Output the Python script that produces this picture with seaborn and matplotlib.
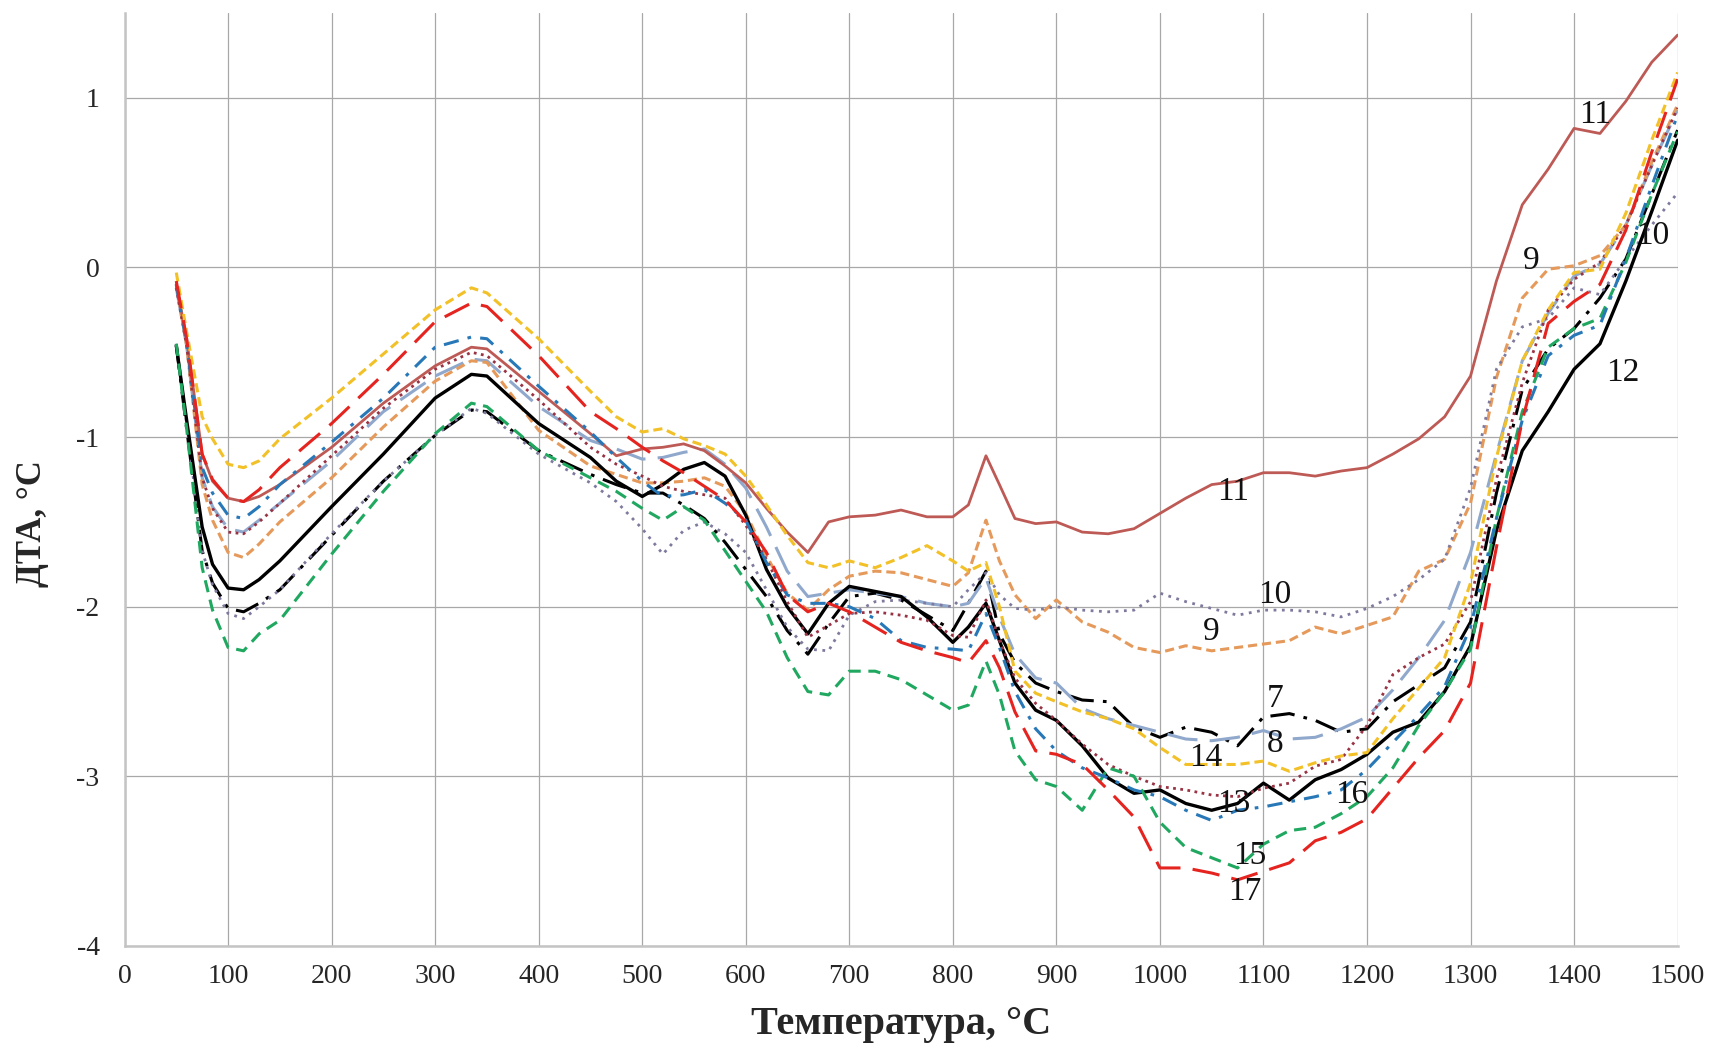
import numpy as np
import pandas as pd
import matplotlib
matplotlib.use('Agg')
import matplotlib.pyplot as plt
import seaborn as sns

""" Data (read off the DTA curves) """

temps = [50, 60, 75, 85, 100, 115, 130, 150, 200, 250, 300, 335, 350, 400, 450, 475, 500,
         520, 540, 560, 580, 600, 620, 640, 660, 680, 700, 725, 750, 775, 800, 815,
         832, 845, 860, 880, 900, 925, 950, 975, 1000, 1025, 1050, 1075, 1100, 1125,
         1150, 1175, 1200, 1225, 1250, 1275, 1300, 1325, 1350, 1375, 1400, 1425,
         1450, 1475, 1500]

dta_7 = [-0.46, -0.95, -1.67, -1.86, -2.01, -2.03, -1.98, -1.90, -1.58, -1.26, -0.99, -0.84, -0.85,
         -1.08, -1.22, -1.28, -1.33, -1.33, -1.40, -1.48, -1.62, -1.78, -1.94, -2.14,
         -2.28, -2.10, -1.94, -1.92, -1.96, -2.05, -2.14, -1.98, -1.79, -2.16, -2.33,
         -2.45, -2.50, -2.55, -2.56, -2.71, -2.77, -2.71, -2.74, -2.82, -2.65, -2.63,
         -2.67, -2.74, -2.72, -2.56, -2.46, -2.36, -2.09, -1.33, -0.72, -0.48, -0.36,
         -0.18, 0.05, 0.43, 0.81]
dta_8 = [-0.12, -0.46, -1.24, -1.41, -1.54, -1.56, -1.49, -1.39, -1.14, -0.85, -0.64, -0.54, -0.55,
         -0.82, -1.02, -1.07, -1.13, -1.12, -1.09, -1.07, -1.16, -1.30, -1.53, -1.79,
         -1.94, -1.92, -1.90, -1.92, -1.94, -1.98, -2.00, -1.98, -1.83, -2.06, -2.28,
         -2.42, -2.45, -2.60, -2.66, -2.70, -2.74, -2.78, -2.79, -2.77, -2.73, -2.78,
         -2.77, -2.72, -2.65, -2.49, -2.30, -2.08, -1.68, -1.10, -0.55, -0.27, -0.05,
         0.02, 0.25, 0.60, 0.93]
dta_9 = [-0.10, -0.46, -1.28, -1.49, -1.68, -1.71, -1.63, -1.50, -1.24, -0.94, -0.67, -0.55, -0.56,
         -0.96, -1.17, -1.22, -1.27, -1.27, -1.26, -1.24, -1.29, -1.45, -1.70, -1.92,
         -2.02, -1.90, -1.82, -1.79, -1.80, -1.84, -1.88, -1.80, -1.49, -1.73, -1.93,
         -2.07, -1.96, -2.09, -2.15, -2.24, -2.27, -2.23, -2.26, -2.24, -2.22, -2.20,
         -2.12, -2.16, -2.11, -2.06, -1.79, -1.72, -1.39, -0.65, -0.18, -0.01, 0.01,
         0.07, 0.25, 0.62, 0.96]
dta_10 = [-0.45, -0.92, -1.67, -1.87, -2.04, -2.07, -2.00, -1.90, -1.57, -1.26, -0.99, -0.83, -0.86,
          -1.10, -1.27, -1.38, -1.54, -1.69, -1.55, -1.50, -1.57, -1.68, -1.90, -2.12,
          -2.25, -2.26, -2.05, -1.97, -1.96, -1.98, -2.00, -1.90, -1.80, -1.93, -2.01,
          -2.02, -2.00, -2.02, -2.03, -2.02, -1.92, -1.97, -2.01, -2.05, -2.02, -2.02,
          -2.03, -2.06, -2.01, -1.94, -1.84, -1.72, -1.30, -0.60, -0.35, -0.30, -0.12,
          -0.16, 0.05, 0.25, 0.44]
dta_11 = [-0.10, -0.42, -1.10, -1.26, -1.36, -1.38, -1.35, -1.28, -1.06, -0.80, -0.58, -0.47, -0.48,
          -0.73, -0.98, -1.11, -1.07, -1.06, -1.04, -1.08, -1.17, -1.27, -1.42, -1.56,
          -1.68, -1.50, -1.47, -1.46, -1.43, -1.47, -1.47, -1.40, -1.11, -1.28, -1.48,
          -1.51, -1.50, -1.56, -1.57, -1.54, -1.45, -1.36, -1.28, -1.26, -1.21, -1.21,
          -1.23, -1.20, -1.18, -1.10, -1.01, -0.88, -0.64, -0.08, 0.37, 0.58, 0.82,
          0.79, 0.98, 1.21, 1.37]
dta_12 = [-0.46, -0.90, -1.53, -1.75, -1.89, -1.90, -1.84, -1.73, -1.41, -1.10, -0.77, -0.63, -0.64,
          -0.92, -1.12, -1.26, -1.35, -1.28, -1.19, -1.15, -1.23, -1.46, -1.78, -2.00,
          -2.16, -1.98, -1.88, -1.91, -1.94, -2.06, -2.21, -2.12, -1.98, -2.20, -2.45,
          -2.61, -2.67, -2.82, -3.01, -3.10, -3.08, -3.16, -3.20, -3.16, -3.04, -3.14,
          -3.02, -2.96, -2.87, -2.74, -2.68, -2.50, -2.23, -1.55, -1.08, -0.85, -0.60,
          -0.45, -0.08, 0.33, 0.75]
dta_13 = [-0.12, -0.46, -1.24, -1.42, -1.56, -1.57, -1.50, -1.39, -1.11, -0.83, -0.60, -0.50, -0.52,
          -0.78, -1.06, -1.16, -1.23, -1.29, -1.32, -1.34, -1.36, -1.52, -1.72, -1.97,
          -2.18, -2.11, -2.04, -2.03, -2.05, -2.08, -2.17, -2.18, -1.96, -2.20, -2.42,
          -2.57, -2.67, -2.81, -2.93, -3.00, -3.06, -3.08, -3.11, -3.12, -3.07, -3.04,
          -2.94, -2.90, -2.70, -2.40, -2.30, -2.22, -1.97, -1.25, -0.68, -0.25, -0.07,
          0.03, 0.25, 0.60, 0.94]
dta_14 = [-0.03, -0.38, -0.88, -1.01, -1.16, -1.18, -1.14, -1.01, -0.77, -0.51, -0.25, -0.12, -0.15,
          -0.42, -0.73, -0.88, -0.97, -0.95, -1.01, -1.05, -1.10, -1.23, -1.40, -1.58,
          -1.74, -1.77, -1.73, -1.77, -1.71, -1.64, -1.73, -1.79, -1.74, -2.00, -2.38,
          -2.51, -2.56, -2.62, -2.66, -2.72, -2.83, -2.93, -2.93, -2.93, -2.91, -2.97,
          -2.92, -2.88, -2.86, -2.66, -2.48, -2.30, -1.86, -1.12, -0.55, -0.25, -0.03,
          -0.01, 0.32, 0.75, 1.15]
dta_15 = [-0.45, -0.95, -1.77, -2.02, -2.24, -2.26, -2.16, -2.08, -1.69, -1.32, -0.98, -0.80, -0.82,
          -1.08, -1.24, -1.32, -1.42, -1.49, -1.41, -1.49, -1.67, -1.85, -2.03, -2.30,
          -2.50, -2.52, -2.38, -2.38, -2.43, -2.52, -2.61, -2.58, -2.32, -2.52, -2.85,
          -3.02, -3.06, -3.20, -2.95, -3.00, -3.27, -3.42, -3.48, -3.54, -3.40, -3.32,
          -3.30, -3.22, -3.12, -2.95, -2.70, -2.50, -2.25, -1.48, -0.85, -0.47, -0.36,
          -0.30, 0.03, 0.43, 0.80]
dta_16 = [-0.10, -0.45, -1.18, -1.33, -1.46, -1.48, -1.41, -1.28, -1.03, -0.77, -0.47, -0.41, -0.42,
          -0.70, -0.97, -1.12, -1.26, -1.35, -1.34, -1.31, -1.39, -1.49, -1.74, -1.93,
          -1.98, -1.98, -2.00, -2.07, -2.20, -2.24, -2.25, -2.26, -2.04, -2.24, -2.50,
          -2.72, -2.85, -2.95, -3.01, -3.08, -3.12, -3.20, -3.26, -3.20, -3.18, -3.15,
          -3.12, -3.08, -2.96, -2.80, -2.64, -2.47, -2.12, -1.48, -0.90, -0.52, -0.40,
          -0.34, 0.05, 0.48, 0.90]
dta_17 = [-0.08, -0.42, -1.10, -1.25, -1.36, -1.38, -1.31, -1.18, -0.92, -0.63, -0.32, -0.21, -0.23,
          -0.52, -0.85, -0.95, -1.06, -1.14, -1.21, -1.29, -1.37, -1.50, -1.68, -1.93,
          -2.03, -1.98, -2.03, -2.12, -2.21, -2.26, -2.30, -2.33, -2.20, -2.36, -2.62,
          -2.85, -2.87, -2.93, -3.08, -3.24, -3.54, -3.54, -3.57, -3.61, -3.56, -3.51,
          -3.38, -3.33, -3.25, -3.07, -2.89, -2.73, -2.45, -1.65, -0.90, -0.33, -0.20,
          -0.10, 0.22, 0.68, 1.11]

# curve numbers written on the chart
label_text = ['11', '11', '10', '10', '9', '9', '7', '8', '14', '13', '16', '15', '17', '12']
label_t = [1071, 1420, 1111, 1476, 1050, 1359, 1111, 1111, 1044, 1071, 1185, 1087, 1082, 1447]
label_v = [-1.32, 0.90, -1.93, 0.19, -2.15, 0.04, -2.54, -2.81, -2.89, -3.16, -3.11, -3.47, -3.68, -0.62]

""" Styles """
curves = [
    (dta_7, 'black', (0, (8, 3, 1.2, 3)), 2.2),
    (dta_8, '#8FA8CC', (0, (10, 4)), 2.2),
    (dta_9, '#E59A5B', (0, (3, 1.6)), 2.2),
    (dta_10, '#7E7A9E', (0, (1, 2)), 2.0),
    (dta_11, '#BE5A55', '-', 2.0),
    (dta_12, 'black', '-', 2.4),
    (dta_13, '#993344', (0, (1, 1.6)), 2.0),
    (dta_14, '#F2C027', (0, (3, 1.6)), 2.2),
    (dta_15, '#20A860', (0, (4, 2.5)), 2.2),
    (dta_16, '#2878B8', (0, (5, 3, 1.2, 3)), 2.2),
    (dta_17, '#E52420', (0, (9, 4)), 2.2),
]

sns.set_style('white')
plt.rcParams['font.family'] = ['Liberation Serif', 'DejaVu Serif']
plt.rcParams['axes.unicode_minus'] = False

fig = plt.figure(figsize=(17.27, 10.44), dpi=100)
ax = fig.add_axes([0.0721, 0.0939, 0.8993, 0.8936])

for vals, col, ls, lw in curves:
    sns.lineplot(x=temps, y=vals, ax=ax, color=col, linestyle=ls, linewidth=lw,
                 estimator=None, sort=False)

for txt, t, v in zip(label_text, label_t, label_v):
    ax.text(t, v, txt, fontsize=24, ha='center', va='center', color='#111111')

ax.set_xlim(0, 1500)
ax.set_ylim(-4, 1.5)
ax.set_xticks(range(0, 1501, 100))
ax.set_yticks(range(-4, 2))
ax.set_yticklabels([str(v) for v in range(-4, 2)])
ax.grid(True, color='#A8A8A8', linewidth=0.9)
ax.set_axisbelow(True)

for side in ['top', 'right']:
    ax.spines[side].set_visible(False)
for side in ['left', 'bottom']:
    ax.spines[side].set_color('#C4C4C4')
    ax.spines[side].set_linewidth(1.8)

ax.tick_params(axis='x', length=5, color='#B0B0B0', labelsize=20, pad=8)
ax.tick_params(axis='y', length=9, color='#B0B0B0', labelsize=20, pad=9)

ax.set_xlabel('Температура, °С', fontsize=29, fontweight='bold')
ax.xaxis.set_label_coords(0.50, -0.084)
ax.xaxis.label.set_va('center')
ax.set_ylabel('ДТА, °С', fontsize=25, fontweight='bold')
ax.yaxis.set_label_coords(-0.059, 0.453)
ax.yaxis.label.set_va('center')

fig.savefig('out.png', dpi=100)
